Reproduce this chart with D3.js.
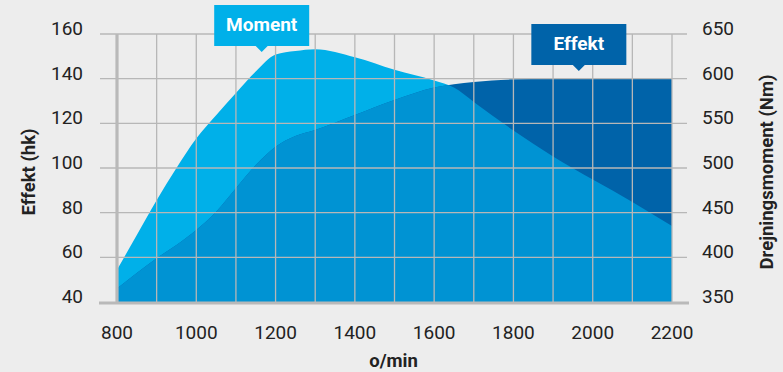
<!DOCTYPE html>
<html>
<head>
<meta charset="utf-8">
<script src="https://cdn.jsdelivr.net/npm/d3@7/dist/d3.min.js"></script>
<style>
  html, body { margin: 0; padding: 0; background: #ededed; }
  svg { display: block; }
  text { font-family: Roboto, "DejaVu Sans", sans-serif; }
</style>
</head>
<body>
<svg id="chart" width="783" height="372"></svg>
<script>
// Engine speed (o/min) and torque curve (Nm)
const momentRpm = [800, 850, 900, 950, 1000, 1050, 1100, 1150, 1200, 1250, 1300, 1400, 1500, 1600, 1650, 1700, 1800, 1900, 2000, 2100, 2200];
const momentNm  = [386, 425, 464, 500, 533, 559, 584, 608, 627, 631, 633, 624, 610, 598, 590, 574, 542, 513, 487, 462, 435];

// Engine speed (o/min) and power curve (hk)
const effektRpm = [800, 900, 950, 1000, 1050, 1100, 1150, 1200, 1250, 1300, 1400, 1500, 1600, 1700, 1800, 1900, 2000, 2100, 2200];
const effektHk  = [46, 59.6, 65.5, 72.2, 80.4, 90.9, 101.3, 109.5, 114.3, 117, 123.7, 130.4, 136, 138.5, 139.7, 140, 140, 140, 140];

// Axis ticks
const xTicks = [800, 1000, 1200, 1400, 1600, 1800, 2000, 2200];
const xGrid = d3.range(800, 2201, 100);
const hkTicks = [40, 60, 80, 100, 120, 140, 160];
const nmTicks = [350, 400, 450, 500, 550, 600, 650];

// Callout labels
const callouts = [
  { name: "Moment", rpm: 1165, top: 5, color: "#00b0e9" },
  { name: "Effekt", rpm: 1965, top: 24, color: "#0063a9" }
];

const colors = { moment: "#00b0e9", effekt: "#0063a9", overlap: "#0093d3", grid: "#b7b7b7", axis: "#b9b9b9", text: "#222222" };

const svg = d3.select("#chart");
const plotLeft = 117, plotRight = 672, plotTop = 34, plotBottom = 302;

const x = d3.scaleLinear().domain([800, 2200]).range([plotLeft, plotRight]);
const yHk = d3.scaleLinear().domain([40, 160]).range([plotBottom, plotTop]);
const yNm = d3.scaleLinear().domain([350, 650]).range([plotBottom, plotTop]);

const momentData = momentRpm.map((r, i) => ({ r, v: momentNm[i] }));
const effektData = effektRpm.map((r, i) => ({ r, v: effektHk[i] }));

const momentArea = d3.area().curve(d3.curveMonotoneX)
  .x(d => x(d.r)).y0(plotBottom).y1(d => yNm(d.v));
const effektArea = d3.area().curve(d3.curveMonotoneX)
  .x(d => x(d.r)).y0(plotBottom).y1(d => yHk(d.v));

const defs = svg.append("defs");
defs.append("clipPath").attr("id", "momentClip")
  .append("path").attr("d", momentArea(momentData));

// Areas: torque, power, and their overlap
svg.append("path").attr("d", momentArea(momentData)).attr("fill", colors.moment);
svg.append("path").attr("d", effektArea(effektData)).attr("fill", colors.effekt);
svg.append("path").attr("d", effektArea(effektData)).attr("fill", colors.overlap)
  .attr("clip-path", "url(#momentClip)");

// Grid
const grid = svg.append("g").attr("stroke", colors.grid).attr("stroke-width", 1.3);
grid.selectAll("line.h").data(hkTicks.slice(1)).join("line")
  .attr("class", "h")
  .attr("x1", 100).attr("x2", 687)
  .attr("y1", d => yHk(d)).attr("y2", d => yHk(d));
grid.selectAll("line.v").data(xGrid.slice(1)).join("line")
  .attr("class", "v")
  .attr("x1", d => x(d)).attr("x2", d => x(d))
  .attr("y1", plotTop).attr("y2", plotBottom);

// Axis lines
svg.append("line").attr("x1", plotLeft).attr("x2", plotLeft).attr("y1", plotTop).attr("y2", plotBottom + 1)
  .attr("stroke", colors.axis).attr("stroke-width", 3.2);
svg.append("line").attr("x1", 99).attr("x2", 689).attr("y1", plotBottom + 1).attr("y2", plotBottom + 1)
  .attr("stroke", colors.axis).attr("stroke-width", 3);

// Tick labels
const tickFont = 19;
svg.append("g").selectAll("text").data(hkTicks).join("text")
  .attr("x", 83).attr("y", d => yHk(d) + 1)
  .attr("text-anchor", "end").attr("font-size", tickFont).attr("fill", colors.text)
  .text(d => d);
svg.append("g").selectAll("text").data(nmTicks).join("text")
  .attr("x", 702).attr("y", d => yNm(d) + 1)
  .attr("text-anchor", "start").attr("font-size", tickFont).attr("fill", colors.text)
  .text(d => d);
svg.append("g").selectAll("text").data(xTicks).join("text")
  .attr("x", d => x(d)).attr("y", 339)
  .attr("text-anchor", "middle").attr("font-size", tickFont).attr("fill", colors.text)
  .text(d => d);

// Axis titles
const titleFont = 18.5;
svg.append("text").attr("x", (plotLeft + plotRight) / 2 - 1).attr("y", 367)
  .attr("text-anchor", "middle").attr("font-size", titleFont).attr("font-weight", "bold")
  .attr("fill", colors.text).text("o/min");
svg.append("text").attr("transform", "translate(35,172) rotate(-90)")
  .attr("text-anchor", "middle").attr("font-size", titleFont).attr("font-weight", "bold")
  .attr("fill", colors.text).text("Effekt (hk)");
svg.append("text").attr("transform", "translate(773,172) rotate(-90)")
  .attr("text-anchor", "middle").attr("font-size", titleFont).attr("font-weight", "bold")
  .attr("fill", colors.text).text("Drejningsmoment (Nm)");

// Callout boxes with pointers
const boxW = 95, boxH = 41, tri = 6;
const cg = svg.append("g").selectAll("g").data(callouts).join("g")
  .attr("transform", d => `translate(${x(d.rpm)},${d.top})`);
cg.append("path")
  .attr("d", `M${-boxW / 2},0H${boxW / 2}V${boxH}H${tri}L0,${boxH + tri}L${-tri},${boxH}H${-boxW / 2}Z`)
  .attr("fill", d => d.color);
cg.append("text").attr("x", 0).attr("y", 26)
  .attr("text-anchor", "middle").attr("font-size", 19).attr("font-weight", "bold")
  .attr("fill", "#ffffff").text(d => d.name);
</script>
</body>
</html>
